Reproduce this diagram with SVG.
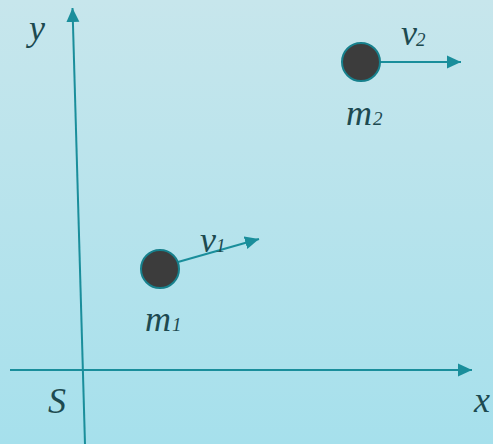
<svg xmlns="http://www.w3.org/2000/svg" width="493" height="444" viewBox="0 0 493 444">
<defs>
<linearGradient id="bg" x1="0" y1="0" x2="0" y2="1">
<stop offset="0" stop-color="#c7e6ec"/>
<stop offset="1" stop-color="#a6e0ec"/>
</linearGradient>
<marker id="ah" viewBox="0 0 14 14" refX="14" refY="7" markerWidth="14" markerHeight="14" markerUnits="userSpaceOnUse" orient="auto">
<path d="M0,0.5 L14,7 L0,13.5 Z" fill="#1a8e9b"/>
</marker>
<style>
.ax{stroke:#1a8e9b;stroke-width:2;fill:none}
.ball{fill:#3c3c3c;stroke:#17808c;stroke-width:2}
text{font-family:'Liberation Serif','Times New Roman',serif;font-style:italic;fill:#1d4a50}
.t{font-size:36px}
.s{font-size:19px}
</style>
</defs>
<rect width="493" height="444" fill="url(#bg)"/>
<g id="connectors">
<line class="ax" x1="85" y1="444" x2="72.5" y2="8" marker-end="url(#ah)"/>
<line class="ax" x1="10" y1="370" x2="472" y2="370" marker-end="url(#ah)"/>
<line class="ax" x1="380" y1="62" x2="461" y2="62" marker-end="url(#ah)"/>
<line class="ax" x1="178" y1="262" x2="259" y2="239" marker-end="url(#ah)"/>
</g>
<g id="axis-labels">
<text class="t" x="29" y="40">y</text>
<text class="t" x="48" y="413">S</text>
<text class="t" x="474" y="412">x</text>
</g>
<g id="m2">
<circle class="ball" cx="361" cy="62" r="19"/>
<text class="t" x="346" y="125">m</text><text class="s" x="373" y="125">2</text>
<text class="t" x="401" y="45">v</text><text class="s" x="416" y="46">2</text>
</g>
<g id="m1">
<circle class="ball" cx="160" cy="269" r="19"/>
<text class="t" x="145" y="331">m</text><text class="s" x="172" y="331">1</text>
<text class="t" x="200" y="252">v</text><text class="s" x="216" y="252">1</text>
</g>
</svg>
